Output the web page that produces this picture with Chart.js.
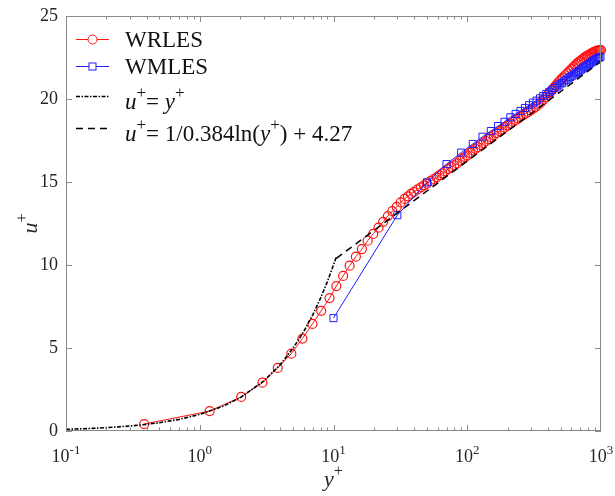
<!DOCTYPE html>
<html>
<head>
<meta charset="utf-8">
<script src="https://cdn.jsdelivr.net/npm/chart.js@4"></script>
<style>
  body { margin: 0; background: #fff; }
  canvas { display: block; }
</style>
</head>
<body>
<canvas id="myChart" width="615" height="496"></canvas>
<script>
// WRLES (red circles)
const wrlesX = [0.384, 1.185, 2.04, 2.94, 3.83, 4.84, 5.86, 6.96, 8.09, 9.34, 10.5, 11.8, 13.2, 14.7, 16.3, 18.0, 19.8, 21.7, 23.5, 25.5, 27.5, 29.7, 31.8,
  34, 36, 38, 40, 42.5, 45, 47.5, 50, 53, 56, 59, 62, 65, 68, 72, 76, 80, 84, 88, 92, 96, 100,
  105, 110, 115, 120, 126, 132, 138, 144, 150, 158, 166, 174, 182, 190, 200, 210, 220, 230, 240, 250,
  262, 274, 286, 298, 310, 325, 340, 355, 370, 385, 400, 415, 430, 445, 460, 475, 490, 505, 520,
  540, 560, 580, 600, 620, 640, 660, 680, 700, 720, 740, 760, 780, 800, 820, 840, 860, 880, 900, 920, 940, 960, 980, 1000];
const wrlesY = [0.42, 1.2, 2.05, 2.91, 3.8, 4.66, 5.57, 6.45, 7.24, 8.01, 8.73, 9.34, 9.96, 10.5, 10.96, 11.46, 11.87, 12.25, 12.6, 12.95, 13.25, 13.5, 13.77,
  13.98, 14.14, 14.28, 14.4, 14.55, 14.68, 14.8, 14.9, 15.05, 15.18, 15.28, 15.4, 15.52, 15.64, 15.78, 15.9, 16.0, 16.12, 16.28, 16.4, 16.5, 16.6,
  16.75, 16.9, 17.0, 17.1, 17.23, 17.35, 17.46, 17.58, 17.7, 17.82, 17.95, 18.06, 18.16, 18.27, 18.4, 18.52, 18.63, 18.73, 18.83, 18.92,
  19.03, 19.13, 19.22, 19.31, 19.4, 19.53, 19.66, 19.8, 19.95, 20.1, 20.25, 20.4, 20.54, 20.68, 20.82, 20.95, 21.08, 21.2, 21.3,
  21.43, 21.56, 21.68, 21.8, 21.92, 22.03, 22.13, 22.22, 22.3, 22.38, 22.45, 22.52, 22.58, 22.63, 22.68, 22.73, 22.78, 22.82, 22.85, 22.88, 22.91, 22.93, 22.95, 22.95];

// WMLES (blue squares)
const wmlesX = [10, 30, 50, 70, 90, 110, 130, 150, 170, 190, 210, 230, 250, 270, 290, 310, 330, 350, 370, 390, 410, 430, 450, 470, 490,
  510, 530, 550, 570, 590, 610, 630, 650, 670, 690, 710, 730, 750, 770, 790, 810, 830, 850, 870, 890, 910, 930, 950, 970, 990];
const wmlesY = [6.8, 13.0, 14.98, 16.08, 16.77, 17.29, 17.73, 18.07, 18.37, 18.63, 18.9, 19.1, 19.28, 19.46, 19.63, 19.78, 19.9, 20.04, 20.18, 20.31, 20.43, 20.55, 20.66, 20.76, 20.87,
  20.96, 21.06, 21.15, 21.24, 21.32, 21.4, 21.48, 21.56, 21.63, 21.7, 21.77, 21.84, 21.91, 21.97, 22.03, 22.1, 22.15, 22.21, 22.27, 22.33, 22.38, 22.43, 22.48, 22.5, 22.53];

// u+ = y+ (dash-dot)
const linX = [0.1, 0.15, 0.2, 0.3, 0.4, 0.5, 0.7, 1, 1.5, 2, 3, 4, 5, 6, 7, 8, 9, 10, 10.5];
const linY = [0.1, 0.15, 0.2, 0.3, 0.4, 0.5, 0.7, 1, 1.5, 2, 3, 4, 5, 6, 7, 8, 9, 10, 10.5];

// log law (dashed)
const logX = [10.5, 30, 100, 300, 1000];
const logY = [10.4, 13.13, 16.26, 19.12, 22.26];

const xTickVals = [0.1, 1, 10, 100, 1000];
const xTickExp = ["-1", "0", "1", "2", "3"];
const yTickVals = [0, 5, 10, 15, 20, 25];

const RED = "rgb(255,20,20)";
const BLUE = "rgb(30,30,255)";
const FONT = '"Liberation Serif", "Times New Roman", serif';

const toPts = (xs, ys) => xs.map((x, i) => ({ x: x, y: ys[i] }));

// text made of runs: n = normal, i = italic, s = superscript
function runFont(kind, size) {
  if (kind == "i") return "italic " + size + "px " + FONT;
  if (kind == "s") return Math.round(size * 0.72) + "px " + FONT;
  return size + "px " + FONT;
}
function runsWidth(ctx, runs, size) {
  let w = 0;
  runs.forEach((r) => {
    ctx.font = runFont(r[1], size);
    w += ctx.measureText(r[0]).width;
  });
  return w;
}
function drawRuns(ctx, runs, x, y, size) {
  ctx.textAlign = "left";
  ctx.textBaseline = "alphabetic";
  runs.forEach((r) => {
    ctx.font = runFont(r[1], size);
    const dy = r[1] == "s" ? -size * 0.45 : 0;
    ctx.fillText(r[0], x, y + dy);
    x += ctx.measureText(r[0]).width;
  });
}

const legendRows = [
  { kind: "red", ly: 39, ty: 47, runs: [["WRLES", "n"]] },
  { kind: "blue", ly: 66, ty: 74, runs: [["WMLES", "n"]] },
  { kind: "dashdot", ly: 96, ty: 108.5, runs: [["u", "i"], ["+", "s"], ["= ", "n"], ["y", "i"], ["+", "s"]] },
  { kind: "dash", ly: 128, ty: 140.5, runs: [["u", "i"], ["+", "s"], ["= 1/0.384ln(", "n"], ["y", "i"], ["+", "s"], [") + 4.27", "n"]] },
];

const axesPlugin = {
  id: "axesPlugin",
  afterDraw(chart) {
    const ctx = chart.ctx;
    const a = chart.chartArea;
    const xs = chart.scales.x;
    const ys = chart.scales.y;
    ctx.save();

    // frame
    ctx.strokeStyle = "#8a8a8a";
    ctx.lineWidth = 1;
    ctx.setLineDash([]);
    ctx.strokeRect(a.left + 0.5, a.top + 0.5, a.right - a.left - 1, a.bottom - a.top - 1);

    // ticks
    ctx.beginPath();
    for (let k = -1; k < 3; k++) {
      for (let m = 1; m < 10; m++) {
        const v = m * Math.pow(10, k);
        const px = Math.round(xs.getPixelForValue(v)) + 0.5;
        const len = m == 1 ? 6 : 3.5;
        ctx.moveTo(px, a.bottom);
        ctx.lineTo(px, a.bottom - len);
        ctx.moveTo(px, a.top);
        ctx.lineTo(px, a.top + len);
      }
    }
    yTickVals.forEach((v) => {
      const py = Math.round(ys.getPixelForValue(v)) + 0.5;
      ctx.moveTo(a.left, py);
      ctx.lineTo(a.left + 6, py);
      ctx.moveTo(a.right, py);
      ctx.lineTo(a.right - 6, py);
    });
    ctx.stroke();

    // tick labels
    ctx.fillStyle = "#262626";
    ctx.font = "18px " + FONT;
    ctx.textAlign = "right";
    ctx.textBaseline = "middle";
    yTickVals.forEach((v) => {
      ctx.fillText(String(v), a.left - 8, ys.getPixelForValue(v));
    });
    xTickVals.forEach((v, i) => {
      const runs = [["10", "n"], [xTickExp[i], "s"]];
      const w = runsWidth(ctx, runs, 18);
      drawRuns(ctx, runs, xs.getPixelForValue(v) - w / 2, 462, 18);
    });

    // axis titles
    const xt = [["y", "i"], ["+", "s"]];
    drawRuns(ctx, xt, (a.left + a.right) / 2 - runsWidth(ctx, xt, 22) / 2, 486, 22);
    const yt = [["u", "i"], ["+", "s"]];
    ctx.save();
    ctx.translate(37, (a.top + a.bottom) / 2);
    ctx.rotate(-Math.PI / 2);
    drawRuns(ctx, yt, -runsWidth(ctx, yt, 22) / 2, 0, 22);
    ctx.restore();

    // legend
    legendRows.forEach((row) => {
      ctx.lineWidth = row.kind == "red" || row.kind == "blue" ? 1 : 1.5;
      ctx.strokeStyle = row.kind == "red" ? RED : row.kind == "blue" ? BLUE : "#000";
      ctx.setLineDash(row.kind == "dashdot" ? [4, 1.5, 1.5, 1.5] : row.kind == "dash" ? [7, 5] : []);
      ctx.beginPath();
      ctx.moveTo(76, row.ly + 0.5);
      ctx.lineTo(109, row.ly + 0.5);
      ctx.stroke();
      ctx.setLineDash([]);
      if (row.kind == "red") {
        ctx.beginPath();
        ctx.arc(92.5, row.ly + 0.5, 4.5, 0, Math.PI * 2);
        ctx.fillStyle = "#fff";
        ctx.fill();
        ctx.stroke();
      } else if (row.kind == "blue") {
        ctx.fillStyle = "#fff";
        ctx.fillRect(89, row.ly - 3, 7, 7);
        ctx.strokeRect(89, row.ly - 3, 7, 7);
      }
      ctx.fillStyle = "#111";
      drawRuns(ctx, row.runs, 125, row.ty, 23);
    });

    ctx.restore();
  },
};

new Chart("myChart", {
  type: "line",
  data: {
    datasets: [
      {
        label: "WRLES",
        data: toPts(wrlesX, wrlesY),
        borderColor: RED,
        backgroundColor: "rgba(0,0,0,0)",
        borderWidth: 1,
        pointStyle: "circle",
        pointRadius: 4.5,
        pointBorderWidth: 1.2,
        pointBorderColor: RED,
        pointBackgroundColor: "rgba(0,0,0,0)",
        clip: false,
        order: 2,
      },
      {
        label: "WMLES",
        data: toPts(wmlesX, wmlesY),
        borderColor: BLUE,
        backgroundColor: "rgba(0,0,0,0)",
        borderWidth: 1,
        pointStyle: "rect",
        pointRadius: 5,
        pointBorderWidth: 1,
        pointBorderColor: BLUE,
        pointBackgroundColor: "rgba(0,0,0,0)",
        clip: false,
        order: 1,
      },
      {
        label: "u+ = y+",
        data: toPts(linX, linY),
        borderColor: "#000",
        borderWidth: 1.6,
        borderDash: [4, 1.5, 1.5, 1.5],
        pointRadius: 0,
        order: 0,
      },
      {
        label: "u+ = 1/0.384ln(y+) + 4.27",
        data: toPts(logX, logY),
        borderColor: "#000",
        borderWidth: 1.5,
        borderDash: [7, 5],
        pointRadius: 0,
        order: 0,
      },
    ],
  },
  options: {
    responsive: false,
    animation: false,
    layout: { padding: { left: 66, right: 14, top: 16, bottom: 65 } },
    scales: {
      x: { type: "logarithmic", min: 0.1, max: 1000, display: false },
      y: { type: "linear", min: 0, max: 25, display: false },
    },
    plugins: {
      legend: { display: false },
      tooltip: { enabled: false },
    },
  },
  plugins: [axesPlugin],
});
</script>
</body>
</html>
